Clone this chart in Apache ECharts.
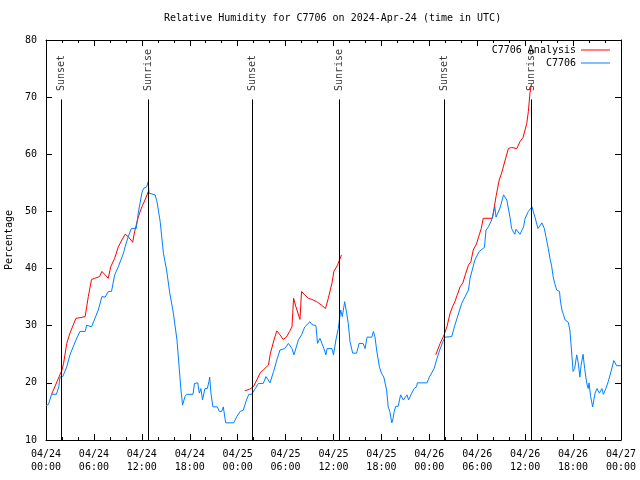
<!DOCTYPE html>
<html>
<head>
<meta charset="utf-8">
<script src="https://cdn.jsdelivr.net/npm/echarts@6/dist/echarts.min.js"></script>
<style>html,body{margin:0;padding:0;background:#fff;}#c{width:640px;height:480px;}</style>
</head>
<body>
<div id="c"></div>
<script>
// ---- Data (hours since 2024-04-24 00:00 UTC) ----
var dateLabels = ['04/24','04/24','04/24','04/24','04/25','04/25','04/25','04/25','04/26','04/26','04/26','04/26','04/27'];
var timeLabels = ['00:00','06:00','12:00','18:00','00:00','06:00','12:00','18:00','00:00','06:00','12:00','18:00','00:00'];
var yTicks = [10,20,30,40,50,60,70,80];

var obsHours = [0.0,0.3,0.7,1.3,1.6,1.75,2.1,2.6,3.0,3.2,3.75,4.25,4.9,5.1,5.7,5.9,6.55,7.0,7.4,7.8,8.2,8.6,9.05,9.7,9.9,10.3,10.7,11.3,11.55,12.0,12.2,12.6,12.8,12.9,13.65,13.9,14.3,14.7,15.1,15.5,15.95,16.4,16.7,16.9,17.1,17.4,17.6,18.4,18.6,19.0,19.2,19.4,19.6,19.9,20.2,20.45,20.5,20.65,20.9,21.45,21.7,22.0,22.2,22.5,23.5,23.9,24.3,24.7,25.1,25.4,25.75,26.2,26.6,27.2,27.55,27.8,28.05,28.5,28.9,29.3,29.9,30.35,30.8,31.05,31.3,31.6,32.0,32.4,33.05,33.3,33.8,34.0,34.3,34.5,34.8,35.05,35.2,35.8,36.0,36.3,36.6,36.9,37.1,37.4,37.65,37.85,38.07,38.4,38.9,39.2,39.7,39.95,40.2,40.8,41.0,41.2,41.4,41.75,42.0,42.3,42.65,42.85,43.05,43.3,43.45,43.6,43.8,44.1,44.4,44.75,45.0,45.2,45.4,45.8,46.1,46.4,46.5,47.7,48.0,48.6,48.9,49.3,49.7,49.98,50.8,51.2,51.4,52.05,52.9,53.1,53.7,54.25,54.9,55.1,55.4,55.8,56.2,56.35,56.85,57.3,57.7,58.1,58.3,58.7,58.85,59.35,59.8,60.0,60.4,60.85,61.25,61.6,62.1,62.4,62.6,62.9,63.1,63.3,63.5,63.7,63.95,64.3,64.4,64.6,64.8,65.0,65.4,65.6,65.8,66.0,66.2,66.45,66.65,66.85,67.0,67.25,67.45,67.7,67.9,68.0,68.2,68.45,68.75,69.0,69.3,69.6,69.8,70.1,70.4,70.8,71.1,71.3,71.45,72.0];
var obsRH = [16,16.2,18,18,19.3,21,21.1,22.8,24.9,25,27.5,29,29,30.1,29.8,30.1,32.75,35.1,35,36,36,38.9,40.3,42.7,43.8,45.6,47.05,47,49.7,53.2,54,54.3,55.2,53.2,52.9,51.7,48.2,42.7,39.75,35.7,32.2,27.5,22.25,18.75,16.1,17.6,18,18,19.9,20,18.2,19,17,19,19,20.5,21,18.2,15.8,15.8,15,15,15.8,13,13,14.1,15,15.2,17,18,18,19,19.9,19.9,21.1,21,20,22,24,25.75,26,26.9,26,24.9,24.9,27.5,28.4,29.8,30.7,30.2,30,26.9,27.8,27.5,26,24.9,26,26,24.9,27.5,29.5,32.75,31.6,34.2,32.2,30.4,27.2,25.2,25.2,26.9,26.9,26,28,28,29,28,25.75,22.8,21.7,21,18.75,15.8,15,13,13.7,15,15.9,15.9,17.9,17,17,17.9,17,18.2,19,19.3,20,20,21,22.5,24,25.75,27.2,28,28.1,30.1,31,33.9,36.25,38.3,41.5,43,43.7,46.75,47.3,48.5,50.8,49,50.6,52.9,52,49,47,46,46.9,46,47.3,48.8,50,50.8,48.9,47,48,47,45.6,43.5,41.8,40.6,38.6,37.4,36.25,36,34.5,32.75,31.9,31,30.6,29.25,25.75,22,22.5,24.9,23.5,21,23,25,22.5,20,19,20,17.6,15.8,18.2,19,18.2,19,18,19,20.2,22.25,23.9,23.9,23,23];

var anaHours1 = [0.7,2.0,2.2,2.6,3.0,3.4,3.75,4.25,4.9,5.3,5.7,6.1,6.7,7.0,7.4,7.8,8.1,8.6,9.05,9.5,9.9,10.3,10.85,11.1,11.55,12.0,12.4,12.8];
var anaRH1 = [18,22.25,23.4,26.9,28.7,30.1,31.3,31.4,31.6,35.1,38.1,38.3,38.6,39.5,38.9,38.3,40.3,41.8,43.8,45,46,45.6,44.6,46.5,49,50.8,52,53.45];
var anaHours2 = [24.9,25.5,25.95,26.4,26.8,27.2,27.85,28.1,28.55,28.9,29.3,29.7,30.1,30.5,30.8,31.0,31.3,31.8,32.0,32.4,32.85,33.3,33.9,34.5,35.0,35.35,35.8,36.05,36.5,37.0];
var anaRH2 = [18.6,18.9,19.3,20.5,21.7,22.25,23.1,25.2,27.5,29.1,28.4,27.6,28,29,29.8,34.8,33.3,31.1,36,35.4,34.8,34.6,34.2,33.6,33,34.8,37.4,39.5,40.6,42.4];
var anaHours3 = [48.8,49.35,49.85,50.2,50.6,50.9,51.2,51.5,51.85,52.2,52.5,52.9,53.2,53.5,53.9,54.25,54.5,54.75,55.9,56.35,56.75,57.05,57.5,57.9,58.3,58.95,59.35,59.75,59.95,60.2,60.4,60.6,60.8];
var anaRH3 = [24.9,26.9,28.4,29.8,32.2,33.3,34.2,35.4,36.8,37.5,38.9,40.6,41.2,43.25,44.3,45.9,47,48.8,48.8,52.6,55.5,56.7,59,61,61.2,61,62.2,63,63.2,65.4,67.5,70.7,72.4];

var sunsetHours = [1.97, 25.83, 49.88];
var sunriseHours = [12.8, 36.73, 60.77];
var sunLineTop = 69.6;
var sunLabelBase = 70.9;

// ---- Build ----
function pairs(xs, ys){ return xs.map(function(x,i){ return [x, ys[i]]; }); }
var FONT = 'DejaVu Sans Mono';
var RED = '#ff0000', BLUE = '#0080ff';

var sunEvents = [];
sunsetHours.forEach(function(h){ sunEvents.push({name:'Sunset', value:[h, sunLabelBase]}); });
sunriseHours.forEach(function(h){ sunEvents.push({name:'Sunrise', value:[h, sunLabelBase]}); });
var sunLines = sunsetHours.concat(sunriseHours).map(function(h){
  return [{coord:[h, 10]}, {coord:[h, sunLineTop]}];
});

function xAxisCfg(pos, showLabels){
  return {
    type:'value', position:pos, min:0, max:72, interval:6,
    axisLine:{show:true, onZero:false, lineStyle:{color:'#000', width:1}},
    axisTick:{show:true, inside:true, length:6, lineStyle:{color:'#000'}},
    minorTick:{show:true, splitNumber:3, length:3, lineStyle:{color:'#000'}},
    splitLine:{show:false},
    axisLabel:{show:showLabels, margin:8, color:'#000', fontFamily:FONT, fontSize:10, lineHeight:13,
      formatter:function(v){ var i=Math.round(v/6); return dateLabels[i]+'\n'+timeLabels[i]; }}
  };
}
function yAxisCfg(pos, showLabels){
  return {
    type:'value', position:pos, min:yTicks[0], max:yTicks[yTicks.length-1], interval:10,
    name: showLabels ? 'Percentage' : '', nameLocation:'middle', nameGap:28, nameRotate:90,
    nameTextStyle:{color:'#000', fontFamily:FONT, fontSize:10},
    axisLine:{show:true, onZero:false, lineStyle:{color:'#000', width:1}},
    axisTick:{show:true, inside:true, length:6, lineStyle:{color:'#000'}},
    splitLine:{show:false},
    axisLabel:{show:showLabels, margin:9, color:'#000', fontFamily:FONT, fontSize:10}
  };
}

var series = [];
[[anaHours1,anaRH1],[anaHours2,anaRH2],[anaHours3,anaRH3]].forEach(function(s){
  series.push({name:'C7706 Analysis', type:'line', data:pairs(s[0], s[1]), symbol:'none',
    lineStyle:{color:RED, width:1}, itemStyle:{color:RED}, animation:false});
});
series.push({name:'C7706', type:'line', data:pairs(obsHours, obsRH), symbol:'none',
  lineStyle:{color:BLUE, width:1}, itemStyle:{color:BLUE}, animation:false,
  markLine:{silent:true, symbol:['none','none'], animation:false,
    label:{show:false}, lineStyle:{color:'#000', width:1, type:'solid'}, data:sunLines}});
series.push({name:'sun', type:'scatter', data:sunEvents, symbolSize:0, silent:true, animation:false,
  label:{show:true, position:'inside', rotate:90, align:'left', verticalAlign:'middle', offset:[1,0],
    formatter:function(p){ return p.name; }, color:'#000', fontFamily:FONT, fontSize:10}});

var legendBase = {right:30, padding:0, align:'right', icon:'rect', itemWidth:29, itemHeight:1,
  textStyle:{color:'#000', fontFamily:FONT, fontSize:10}};
var chart = echarts.init(document.getElementById('c'), null, {renderer:'canvas'});
chart.setOption({
  backgroundColor:'#fff',
  animation:false,
  title:{text:'Relative Humidity for C7706 on 2024-Apr-24 (time in UTC)', left:164, top:13,
    padding:0, textStyle:{color:'#000', fontFamily:FONT, fontSize:10, fontWeight:'normal'}},
  grid:{left:46, right:19, top:40, bottom:40, containLabel:false, outerBoundsMode:'none'},
  legend:[
    Object.assign({data:['C7706 Analysis'], top:45}, legendBase),
    Object.assign({data:['C7706'], top:58}, legendBase)
  ],
  xAxis:[xAxisCfg('bottom', true), xAxisCfg('top', false)],
  yAxis:[yAxisCfg('left', true), yAxisCfg('right', false)],
  series:series
});
</script>
</body>
</html>
